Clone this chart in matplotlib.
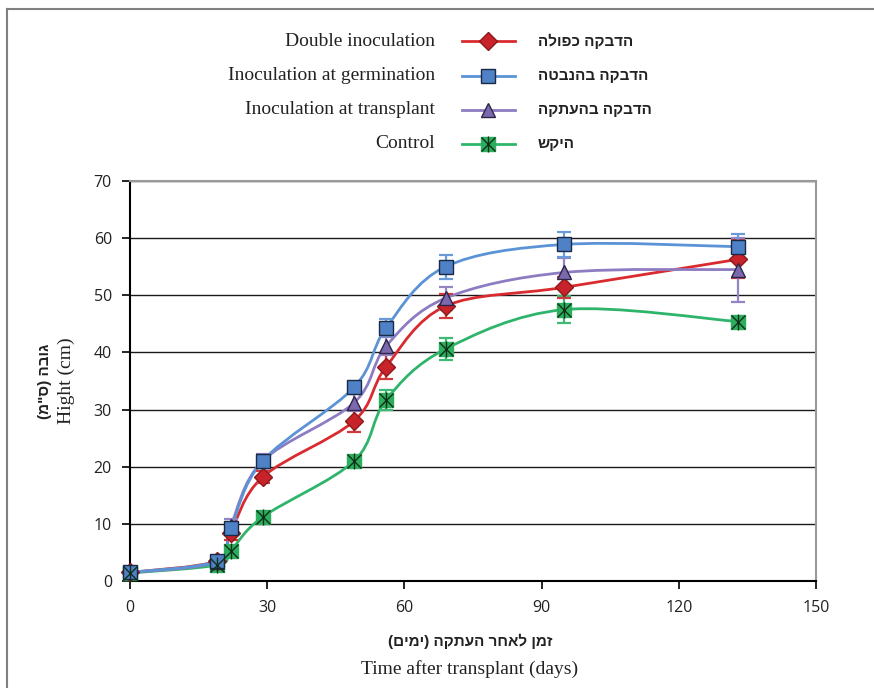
import matplotlib
matplotlib.use("Agg")
import matplotlib.pyplot as plt
from matplotlib.path import Path
from matplotlib.patches import PathPatch
from matplotlib.lines import Line2D
import numpy as np

# ---------------- data ----------------
days = [0, 19, 22, 29, 49, 56, 69, 95, 133]
double_inoc = [1.5, 3.5, 8.4, 18.2, 28.0, 37.5, 48.1, 51.4, 56.3]
double_err = [0.4, 0.5, 1.2, 1.1, 1.9, 2.2, 2.1, 1.8, 3.3]
germination = [1.5, 3.5, 9.2, 21.0, 33.9, 44.3, 55.0, 58.9, 58.5]
germination_err = [0.4, 0.5, 1.0, 1.0, 1.0, 1.5, 2.1, 2.2, 2.2]
transplant = [1.5, 3.4, 9.6, 21.0, 31.2, 41.1, 49.5, 54.0, 54.5]
transplant_err = [0.4, 0.5, 1.3, 1.2, 1.5, 1.6, 2.0, 2.5, 5.6]
control = [1.4, 2.8, 5.2, 11.2, 21.0, 31.7, 40.6, 47.5, 45.4]
control_err = [0.4, 0.5, 0.6, 0.6, 0.6, 1.7, 1.9, 2.3, 0.8]

labels_en = ["Double inoculation", "Inoculation at germination",
             "Inoculation at transplant", "Control"]
labels_he = ["הדבקה כפולה", "הדבקה בהנבטה", "הדבקה בהעתקה", "היקש"]
xlabel_he = "זמן לאחר העתקה (ימים)"
xlabel_en = "Time after transplant (days)"
ylabel_he = "גובה (ס\"מ)"
ylabel_en = "Hight (cm)"
xticks = [0, 30, 60, 90, 120, 150]
yticks = [0, 10, 20, 30, 40, 50, 60, 70]

series = [double_inoc, germination, transplant, control]
errors = [double_err, germination_err, transplant_err, control_err]
line_colors = ["#d92b2f", "#5b93d6", "#8e7cc3", "#2fb56b"]
err_colors = ["#d1393c", "#6a9bd8", "#9584c4", "#3dbb74"]
fill_colors = ["#c8232b", "#4f81c6", "#7b69ad", "#2cae5e"]
edge_colors = ["#8b1a1a", "#1a2a44", "#2e2448", "#1a5a30"]
markers = ["D", "s", "^", "s"]
msizes = [9.5, 10, 10.5, 10]


def rtl(s):
    mirror = {"(": ")", ")": "("}
    return "".join(mirror.get(c, c) for c in reversed(s))


def smooth_path(x, y):
    pts = np.column_stack([x, y]).astype(float)
    n = len(pts)
    verts = [pts[0]]
    codes = [Path.MOVETO]
    for i in range(n - 1):
        p0 = pts[i - 1] if i > 0 else pts[i]
        p1 = pts[i]
        p2 = pts[i + 1]
        p3 = pts[i + 2] if i + 2 < n else pts[i + 1]
        c1 = p1 + (p2 - p0) / 6.0
        c2 = p2 - (p3 - p1) / 6.0
        verts += [c1, c2, p2]
        codes += [Path.CURVE4] * 3
    return Path(verts, codes)


W, H = 874, 688
fig = plt.figure(figsize=(W / 100, H / 100), dpi=100)
ax = fig.add_axes([130 / W, 1 - 581 / H, (816 - 130) / W, (581 - 181) / H])

tick_font = ["Open Sans", "DejaVu Sans"]
serif = ["Liberation Serif", "DejaVu Serif"]
heb = ["Liberation Sans", "DejaVu Sans"]

ax.set_xlim(0, 150)
ax.set_ylim(0, 70)
ax.set_xticks(xticks)
ax.set_yticks(yticks)
for lab in ax.get_xticklabels() + ax.get_yticklabels():
    lab.set_family(tick_font)
    lab.set_fontsize(11.5)
    lab.set_color("#222222")
ax.tick_params(axis="both", direction="out", length=6, width=1.2, color="black", pad=7)
ax.tick_params(axis="x", pad=8)
ax.yaxis.grid(True, color="#1a1a1a", linewidth=1.0)
ax.set_axisbelow(True)
for s in ["left", "bottom"]:
    ax.spines[s].set_color("black")
    ax.spines[s].set_linewidth(1.5)
for s in ["top", "right"]:
    ax.spines[s].set_color("#999999")
    ax.spines[s].set_linewidth(1.5)

order = [3, 0, 2, 1]
for i in order:
    ys = series[i]
    ax.add_patch(PathPatch(smooth_path(days, ys), facecolor="none",
                           edgecolor=line_colors[i], linewidth=2.0, zorder=3))
for i in order:
    ys = series[i]
    ax.errorbar(days, ys, yerr=errors[i], fmt="none", ecolor=err_colors[i],
                elinewidth=1.6, capsize=5, capthick=1.6, zorder=4)
for i in order:
    ys = series[i]
    if i == 3:
        ax.plot(days, ys, linestyle="none", marker="s", markersize=msizes[i],
                markerfacecolor=fill_colors[i], markeredgecolor=fill_colors[i],
                zorder=5, clip_on=False)
        ax.plot(days, ys, linestyle="none", marker="x", markersize=msizes[i],
                markeredgecolor="#0f2f18", markeredgewidth=1.0, zorder=6, clip_on=False)
        ax.plot(days, ys, linestyle="none", marker="|", markersize=msizes[i] + 1,
                markeredgecolor="#0f2f18", markeredgewidth=1.0, zorder=6, clip_on=False)
    else:
        ax.plot(days, ys, linestyle="none", marker=markers[i], markersize=msizes[i],
                markerfacecolor=fill_colors[i], markeredgecolor=edge_colors[i],
                markeredgewidth=1.0, zorder=5, clip_on=False)

# ---------------- legend (custom) ----------------
rows = [41, 76, 110, 144]
for i, py in enumerate(rows):
    fy = 1 - py / H
    fig.text(435 / W, fy, labels_en[i], ha="right", va="center",
             family=serif, fontsize=14, color="#222222")
    fig.text(538 / W, fy, rtl(labels_he[i]), ha="left", va="center",
             family=heb, fontsize=11, fontweight="bold", color="#222222")
    fig.add_artist(Line2D([462 / W, 515 / W], [fy, fy], color=line_colors[i],
                          linewidth=2.0, transform=fig.transFigure))
    mx = 488 / W
    if i == 3:
        fig.add_artist(Line2D([mx], [fy], marker="s", markersize=msizes[i],
                              markerfacecolor=fill_colors[i], markeredgecolor=fill_colors[i],
                              transform=fig.transFigure))
        fig.add_artist(Line2D([mx], [fy], marker="x", markersize=msizes[i],
                              markeredgecolor="#0f2f18", markeredgewidth=1.0,
                              transform=fig.transFigure))
        fig.add_artist(Line2D([mx], [fy], marker="|", markersize=msizes[i] + 1,
                              markeredgecolor="#0f2f18", markeredgewidth=1.0,
                              transform=fig.transFigure))
    else:
        fig.add_artist(Line2D([mx], [fy], marker=markers[i], markersize=msizes[i],
                              markerfacecolor=fill_colors[i], markeredgecolor=edge_colors[i],
                              markeredgewidth=1.0, transform=fig.transFigure))

# ---------------- axis titles ----------------
fig.text(470 / W, 1 - 641 / H, rtl(xlabel_he), ha="center", va="center",
         family=heb, fontsize=11, fontweight="bold", color="#222222")
fig.text(470 / W, 1 - 669 / H, xlabel_en, ha="center", va="center",
         family=serif, fontsize=14, color="#222222")
fig.text(45 / W, 1 - 381 / H, rtl(ylabel_he), ha="center", va="center", rotation=90,
         family=heb, fontsize=11, fontweight="bold", color="#222222")
fig.text(66 / W, 1 - 381 / H, ylabel_en, ha="center", va="center", rotation=90,
         family=serif, fontsize=14, color="#222222")

# outer frame (top and left visible)
fig.add_artist(Line2D([7 / W, 873 / W], [1 - 9 / H, 1 - 9 / H], color="#808080",
                      linewidth=1.5, transform=fig.transFigure))
fig.add_artist(Line2D([7 / W, 7 / W], [1 - 9 / H, 0], color="#808080",
                      linewidth=1.5, transform=fig.transFigure))

fig.savefig("out.png", dpi=100)
